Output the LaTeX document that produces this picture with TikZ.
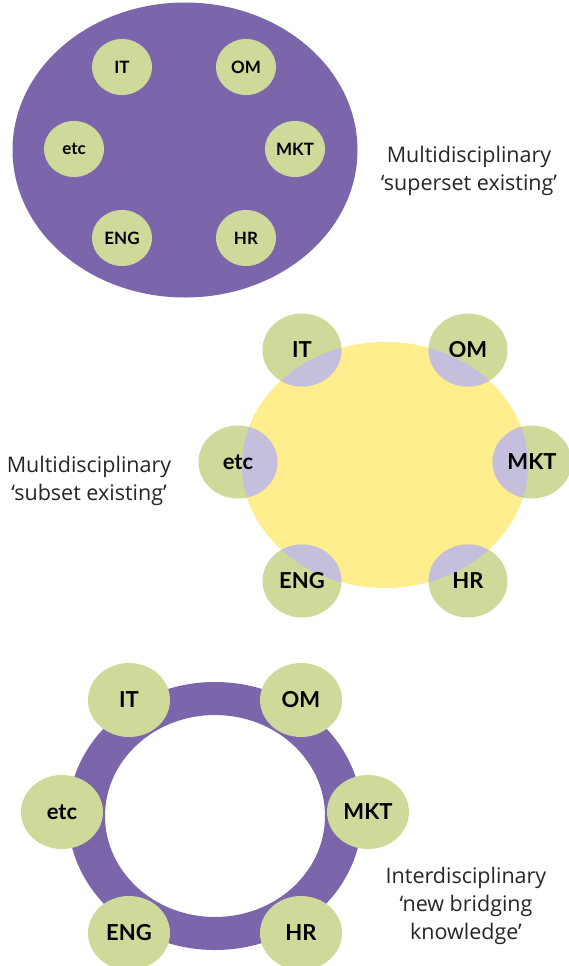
\documentclass[tikz,border=0pt]{standalone}
\usepackage{fontspec}
\setmainfont{Lato}
\newfontfamily\capfont{Open Sans}
\usetikzlibrary{shapes.geometric}
\definecolor{purp}{HTML}{7B65AB}
\definecolor{grn}{HTML}{CFD99A}
\definecolor{yel}{HTML}{FEEE8E}
\definecolor{lav}{HTML}{C5BEDD}
\tikzset{
  blob/.style={ellipse, inner sep=0pt, draw=none},
  smallg/.style={blob, fill=grn, minimum width=60pt, minimum height=56pt},
  midg/.style={blob, fill=grn, minimum width=79pt, minimum height=73pt},
  botg/.style={blob, fill=grn, minimum width=82pt, minimum height=74pt},
  lblS/.style={font=\fontsize{17}{17}\selectfont\bfseries},
  lblM/.style={font=\fontsize{22}{22}\selectfont\bfseries},
  caption/.style={align=center, text=black!85, font=\capfont\fontsize{21.5}{28}\selectfont},
}
\begin{document}
\begin{tikzpicture}[x=1pt,y=-1pt]
\useasboundingbox[fill=white] (0,0) rectangle (569,966);
% ---------- top ----------
\node[blob, fill=purp, minimum width=345pt, minimum height=295pt] (big) at (185,150) {};
\node[smallg, lblS] (t1) at (122,67) {IT};
\node[smallg, lblS] (t2) at (246,67) {OM};
\node[smallg, lblS] (t3) at (74,149) {etc};
\node[smallg, lblS] (t4) at (295,149) {MKT};
\node[smallg, lblS] (t5) at (122,238) {ENG};
\node[smallg, lblS] (t6) at (246,238) {HR};
\node[caption] (c1) at (469,171) {Multidisciplinary\\‘superset existing’};
% ---------- middle ----------
\node[blob, fill=yel, minimum width=286pt, minimum height=246pt] (yel) at (385,465) {};
\node[midg] (m1) at (302,350) {};
\node[midg] (m2) at (468,350) {};
\node[midg] (m3) at (238,462) {};
\node[midg] (m4) at (532,462) {};
\node[midg] (m5) at (302,581) {};
\node[midg] (m6) at (468,581) {};
\begin{scope}
  \clip (385,465) ellipse (143 and 123);
  \foreach \p in {(302,350),(468,350),(238,462),(532,462),(302,581),(468,581)}
    \fill[lav] \p ellipse (39.5 and 36.5);
\end{scope}
\node[lblM] at (m1.center) {IT};
\node[lblM] at (m2.center) {OM};
\node[lblM] at (m3.center) {etc};
\node[lblM] at (m4.center) {MKT};
\node[lblM] at (m5.center) {ENG};
\node[lblM] at (m6.center) {HR};
\node[caption] (c2) at (89,481) {Multidisciplinary\\‘subset existing’};
% ---------- bottom ----------
\fill[purp, even odd rule] (215,816) ellipse (147 and 134) (215,816) ellipse (110 and 101);
\node[blob, minimum width=294pt, minimum height=268pt] (ring) at (215,816) {};
\node[botg, lblM] (b1) at (129,700) {IT};
\node[botg, lblM] (b2) at (301,700) {OM};
\node[botg, lblM] (b3) at (62,812) {etc};
\node[botg, lblM] (b4) at (368,812) {MKT};
\node[botg, lblM] (b5) at (129,933) {ENG};
\node[botg, lblM] (b6) at (301,933) {HR};
\node[caption] (c3) at (466,906) {Interdisciplinary\\‘new bridging\\knowledge’};
\end{tikzpicture}
\end{document}
